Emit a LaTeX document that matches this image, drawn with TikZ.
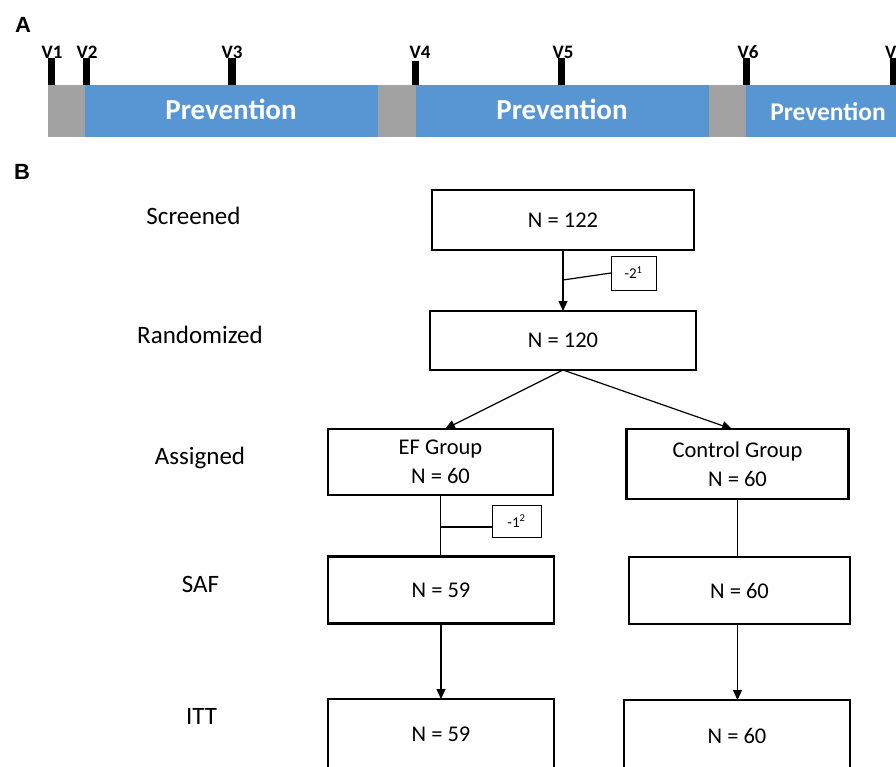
\documentclass[tikz,border=0pt]{standalone}
\usepackage{fontspec}
\setmainfont{Carlito}
\newfontfamily\arialf{Liberation Sans}
\usetikzlibrary{arrows.meta}
\definecolor{pblue}{HTML}{5796D3}
\definecolor{pgray}{HTML}{A2A2A2}
\begin{document}
\begin{tikzpicture}[x=1pt,y=-1pt,
  panel/.style={font=\arialf\bfseries\fontsize{22}{22}\selectfont, inner sep=0pt},
  vlab/.style={font=\bfseries\fontsize{19}{19}\selectfont, inner sep=0pt, anchor=base},
  prev/.style={font=\bfseries\fontsize{29}{29}\selectfont, text=white, inner sep=0pt, anchor=base},
  tick/.style={fill=black, draw=none},
  rowlab/.style={font=\fontsize{25}{25}\selectfont, inner sep=0pt, anchor=base},
  nbox/.style={draw, line width=2.2pt, inner sep=0pt, outer sep=0pt, align=center,
    font=\fontsize{22.5}{29}\selectfont},
  mbox/.style={draw, line width=1pt, inner sep=0pt, outer sep=0pt,
    font=\fontsize{15}{15}\selectfont},
  conn/.style={line width=1.2pt},
  arr/.style={line width=1.2pt, -{Triangle[length=10pt,width=9pt]}}
]
\useasboundingbox (0,0) rectangle (896,767);
\clip (0,0) rectangle (896,767);

% ---------- Panel A ----------
\node[panel] (pa) at (23,25) {A};
\fill[pblue] (48,85) rectangle (896,137);
\fill[pgray] (48,85) rectangle (85,137);
\fill[pgray] (378,85) rectangle (416,137);
\fill[pgray] (709,85) rectangle (746,137);

\node[vlab] (v1) at (52,59) {V1};
\node[vlab] (v2) at (87,59) {V2};
\node[vlab] (v3) at (232,59) {V3};
\node[vlab] (v4) at (420,59) {V4};
\node[vlab] (v5) at (563,59) {V5};
\node[vlab] (v6) at (748,59) {V6};
\node[vlab, anchor=base west] (v7) at (885,59) {V7};

\fill[tick] (48,58) rectangle (55,85);
\fill[tick] (83,58) rectangle (90,85);
\fill[tick] (228,58) rectangle (236,85);
\fill[tick] (412,61) rectangle (419,85);
\fill[tick] (558,58) rectangle (565,85);
\fill[tick] (743,58) rectangle (750,85);
\fill[tick] (890,58) rectangle (897,85);

\node[prev] (p1) at (231,120) {Prevention};
\node[prev] (p2) at (562,120) {Prevention};
\node[prev, font=\bfseries\fontsize{25.5}{25.5}\selectfont] (p3) at (828,121) {Prevention};

% ---------- Panel B ----------
\node[panel] (pb) at (22,172) {B};

\node[rowlab] (l1) at (193.5,225) {Screened};
\node[rowlab] (l2) at (200,343) {Randomized};
\node[rowlab] (l3) at (200,464) {Assigned};
\node[rowlab] (l4) at (200.5,592) {SAF};
\node[rowlab] (l5) at (201.5,724) {ITT};

\node[nbox, minimum width=262pt, minimum height=60pt] (scr) at (563,220) {N = 122};
\node[nbox, minimum width=266pt, minimum height=59pt] (rnd) at (563,340.5) {N = 120};
\node[nbox, minimum width=225pt, minimum height=66pt] (ef) at (440.5,462) {EF Group\\N = 60};
\node[nbox, minimum width=222pt, minimum height=70pt] (cg) at (737.5,464) {Control Group\\N = 60};
\node[nbox, minimum width=226pt, minimum height=67pt] (sef) at (441,590) {N = 59};
\node[nbox, minimum width=221pt, minimum height=67pt] (sc) at (739.5,590.5) {N = 60};
\node[nbox, minimum width=226pt, minimum height=70pt, text depth=0pt] (ief) at (441,734) {N = 59};
\node[nbox, minimum width=226pt, minimum height=72pt] (ic) at (737,736) {N = 60};

\node[mbox, minimum width=45pt, minimum height=34pt] (m2) at (633.5,273) {-2\textsuperscript{1}};
\node[mbox, minimum width=49pt, minimum height=32pt] (m1) at (516.5,521) {-1\textsuperscript{2}};

\draw[arr] (scr.south) -- (rnd.north);
\coordinate (j1) at (563,280);
\draw[conn] (j1) -- (m2.west);

\draw[arr] (rnd.south) -- ([xshift=4.5pt]ef.north);
\draw[arr] (rnd.south) -- ([xshift=-5.5pt]cg.north);

\draw[conn] (ef.south) -- (ef.south |- sef.north);
\coordinate (j2) at (440.5,527);
\draw[conn] (j2) -- (j2 -| m1.west);
\draw[conn] (cg.south) -- (cg.south |- sc.north);

\draw[arr] (sef.south) -- (sef.south |- ief.north);
\draw[arr] (cg.south |- sc.south) -- (cg.south |- ic.north);
\end{tikzpicture}
\end{document}
